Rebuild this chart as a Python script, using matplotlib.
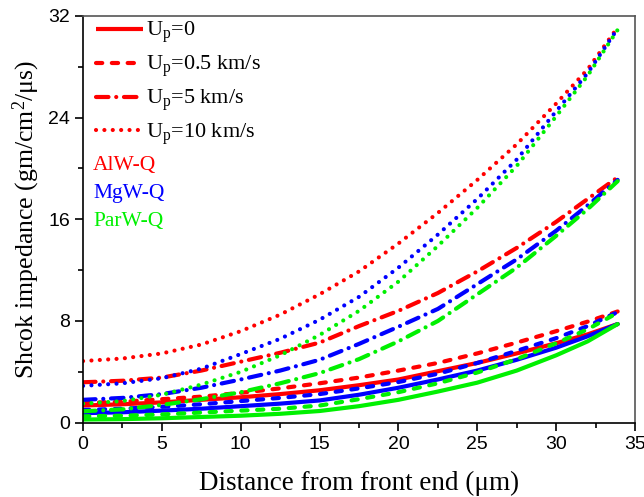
import numpy as np
import matplotlib
matplotlib.use("Agg")
import matplotlib.pyplot as plt

plt.rcParams['mathtext.fontset'] = 'custom'
plt.rcParams['mathtext.rm'] = 'Liberation Serif'
plt.rcParams['mathtext.it'] = 'Liberation Serif'

# distancia desde el extremo frontal (um)
x = [0, 2.5, 5, 7.5, 10, 12.5, 15, 17.5, 20, 22.5, 25, 27.5, 30, 32, 33.9]

# impedancia de choque, por material y Up
alw_up0 = [1.35, 1.45, 1.6, 1.8, 2.0, 2.25, 2.55, 2.95, 3.4, 4.05, 4.7, 5.45, 6.25, 6.95, 7.76]
alw_up05 = [1.55, 1.65, 1.85, 2.05, 2.35, 2.7, 3.1, 3.55, 4.1, 4.7, 5.45, 6.3, 7.2, 7.95, 8.75]
alw_up5 = [3.18, 3.3, 3.55, 4.1, 4.8, 5.5, 6.3, 7.6, 8.8, 10.2, 11.9, 13.75, 15.8, 17.6, 19.3]
alw_up10 = [4.85, 5.05, 5.45, 6.15, 7.2, 8.5, 10.1, 11.9, 14.1, 16.5, 19.1, 21.9, 25.1, 27.8, 31.1]

mgw_up0 = [0.75, 0.82, 0.95, 1.1, 1.3, 1.5, 1.75, 2.2, 2.75, 3.4, 4.1, 4.95, 5.9, 6.8, 7.76]
mgw_up05 = [1.0, 1.1, 1.25, 1.45, 1.7, 1.95, 2.25, 2.7, 3.2, 3.85, 4.7, 5.65, 6.65, 7.6, 8.7]
mgw_up5 = [1.8, 1.95, 2.25, 2.75, 3.4, 4.1, 4.95, 6.2, 7.55, 8.95, 10.9, 12.85, 15.1, 17.1, 19.1]
mgw_up10 = [2.9, 3.1, 3.5, 4.25, 5.4, 6.6, 8.1, 9.9, 12.2, 14.8, 17.6, 20.7, 24.5, 27.5, 31.0]

parw_up0 = [0.25, 0.28, 0.35, 0.45, 0.55, 0.7, 0.92, 1.3, 1.8, 2.45, 3.15, 4.1, 5.3, 6.4, 7.76]
parw_up05 = [0.5, 0.55, 0.65, 0.8, 0.95, 1.1, 1.35, 1.85, 2.4, 3.1, 3.95, 5.0, 6.25, 7.35, 8.65]
parw_up5 = [0.9, 1.05, 1.4, 1.85, 2.4, 3.1, 3.9, 5.0, 6.4, 8.0, 10.1, 12.2, 14.7, 16.8, 19.0]
parw_up10 = [1.5, 1.7, 2.2, 3.0, 4.0, 5.3, 6.9, 8.8, 11.1, 13.9, 16.9, 20.2, 24.1, 27.3, 30.9]

up_labels = ["0", "0.5 km/s", "5 km/s", "10 km/s"]
materials = ["AlW-Q", "MgW-Q", "ParW-Q"]
colors = ["#ff0000", "#0000ff", "#00f000"]

styles = ["-", (0, (1.5, 2.3)), (0, (3.0, 1.85, 0.01, 1.85)), (0, (0.01, 2.0))]
series = [
    [alw_up0, alw_up05, alw_up5, alw_up10],
    [mgw_up0, mgw_up05, mgw_up5, mgw_up10],
    [parw_up0, parw_up05, parw_up5, parw_up10],
]

fig = plt.figure(figsize=(6.44, 4.97), dpi=100)
ax = fig.add_axes([0.129, 0.1495, 0.857, 0.8185])

for col, curvas in zip(colors, series):
    for ls, y in zip(styles, curvas):
        ax.plot(x, y, color=col, lw=3.0, ls=ls,
                dash_capstyle="round", solid_capstyle="round")

# leyenda con los estilos de Up (en rojo)
handles = []
for ls, lab in zip(styles, up_labels):
    h, = ax.plot([], [], color="#ff0000", lw=3.0, ls=ls,
                 dash_capstyle="round", solid_capstyle="butt")
    h.set_label(r"U$_{\mathregular{p}}$=" + lab)
    handles.append(h)
ax.legend(handles=handles, loc="upper left", frameon=False,
          prop={"family": "Liberation Serif", "size": 16},
          handlelength=2.1, handletextpad=0.15, labelspacing=0.38,
          borderaxespad=0.0, bbox_to_anchor=(0.008, 1.012))

for name, col, yy in zip(materials, colors, [0.633, 0.564, 0.495]):
    ax.text(0.018, yy, name, color=col, transform=ax.transAxes,
            family="Liberation Serif", fontsize=15.5, va="center", ha="left")

ax.set_xlim(0, 35)
ax.set_ylim(0, 32)
ax.set_xticks(np.arange(0, 36, 5))
ax.set_xticks(np.arange(2.5, 35, 5), minor=True)
ax.set_yticks([0, 8, 16, 24, 32])
ax.set_yticks([4, 12, 20, 28], minor=True)

ax.tick_params(which="both", direction="out", top=False, right=False,
               width=1.2, labelsize=14)
ax.tick_params(which="major", length=6)
ax.tick_params(which="minor", length=3.5)
for lab in ax.get_xticklabels() + ax.get_yticklabels():
    lab.set_family("Liberation Sans")
for s in ax.spines.values():
    s.set_linewidth(1.2)
ax.spines["top"].set_color("#555555")
ax.spines["right"].set_color("#555555")

ax.set_xlabel("Distance from front end (μm)", family="Liberation Serif",
              fontsize=19.5, labelpad=13)
ax.set_ylabel(r"Shcok impedance (gm/cm$^{\mathregular{2}}$/μs)",
              family="Liberation Serif", fontsize=18.5, labelpad=4)

fig.savefig("out.png", dpi=100)
